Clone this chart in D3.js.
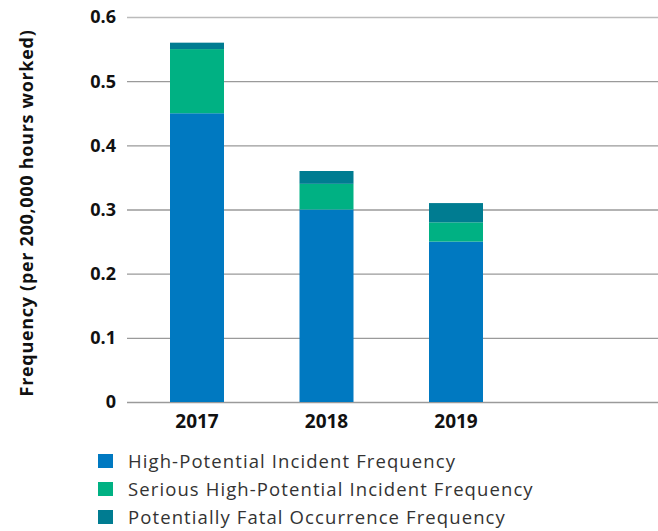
<!DOCTYPE html>
<html>
<head>
<meta charset="utf-8">
<script src="https://cdn.jsdelivr.net/npm/d3@7"></script>
<style>
  body { margin: 0; background: #fff; }
  svg { display: block; font-family: "Open Sans", "DejaVu Sans", sans-serif; }
</style>
</head>
<body>
<svg id="chart" width="658" height="531"></svg>
<script>
const years = ["2017", "2018", "2019"];
const seriesNames = [
    "High-Potential Incident Frequency",
    "Serious High-Potential Incident Frequency",
    "Potentially Fatal Occurrence Frequency"
];
const highPotential = [0.45, 0.30, 0.25];
const seriousHighPotential = [0.10, 0.04, 0.03];
const potentiallyFatal = [0.01, 0.02, 0.03];
const yTicks = [0, 0.1, 0.2, 0.3, 0.4, 0.5, 0.6];

const colors = ["#0079c1", "#00b183", "#007c91"];

const rows = years.map((year, i) => ({
    year,
    s0: highPotential[i],
    s1: seriousHighPotential[i],
    s2: potentiallyFatal[i]
}));

const svg = d3.select("#chart");

const x = d3.scaleBand()
    .domain(years)
    .range([132.25, 520.75])
    .paddingInner(0.583)
    .paddingOuter(0.2915);

const y = d3.scaleLinear()
    .domain([0, 0.6])
    .range([402, 17]);

// gridlines
svg.append("g")
    .selectAll("line")
    .data(yTicks)
    .enter()
    .append("line")
    .attr("x1", 127)
    .attr("x2", 658)
    .attr("y1", d => y(d) + 0.5)
    .attr("y2", d => y(d) + 0.5)
    .attr("stroke", d => d === 0.6 ? "#bbb" : "#9a9a9a")
    .attr("stroke-width", 1.3);

// y tick labels
svg.append("g")
    .selectAll("text")
    .data(yTicks)
    .enter()
    .append("text")
    .attr("x", 116)
    .attr("y", d => y(d))
    .attr("dy", "0.36em")
    .attr("text-anchor", "end")
    .attr("font-size", 18)
    .attr("font-weight", 700)
    .attr("fill", "#111")
    .text(d => d === 0 ? "0" : d.toFixed(1));

// stacked bars
const stack = d3.stack().keys(["s0", "s1", "s2"]);
const layers = stack(rows);

svg.append("g")
    .selectAll("g")
    .data(layers)
    .enter()
    .append("g")
    .attr("fill", (d, i) => colors[i])
    .selectAll("rect")
    .data(d => d)
    .enter()
    .append("rect")
    .attr("x", d => x(d.data.year))
    .attr("width", x.bandwidth())
    .attr("y", d => y(d[1]))
    .attr("height", d => y(d[0]) - y(d[1]));

// x labels
svg.append("g")
    .selectAll("text")
    .data(years)
    .enter()
    .append("text")
    .attr("x", d => x(d) + x.bandwidth() / 2)
    .attr("y", 428)
    .attr("text-anchor", "middle")
    .attr("font-size", 19)
    .attr("font-weight", 700)
    .attr("fill", "#111")
    .text(d => d);

// y axis title
svg.append("text")
    .attr("transform", "translate(33, 213) rotate(-90)")
    .attr("text-anchor", "middle")
    .attr("font-size", 18)
    .attr("font-weight", 700)
    .attr("letter-spacing", 0.7)
    .attr("fill", "#111")
    .text("Frequency (per 200,000 hours worked)");

// legend
const legend = svg.append("g")
    .selectAll("g")
    .data(seriesNames)
    .enter()
    .append("g")
    .attr("transform", (d, i) => `translate(98, ${454 + i * 28})`);

legend.append("rect")
    .attr("width", 15)
    .attr("height", 14)
    .attr("fill", (d, i) => colors[i]);

legend.append("text")
    .attr("x", 30)
    .attr("y", 7)
    .attr("dy", "0.36em")
    .attr("font-size", 18.5)
    .attr("letter-spacing", 1.1)
    .attr("fill", "#333")
    .text(d => d);
</script>
</body>
</html>
